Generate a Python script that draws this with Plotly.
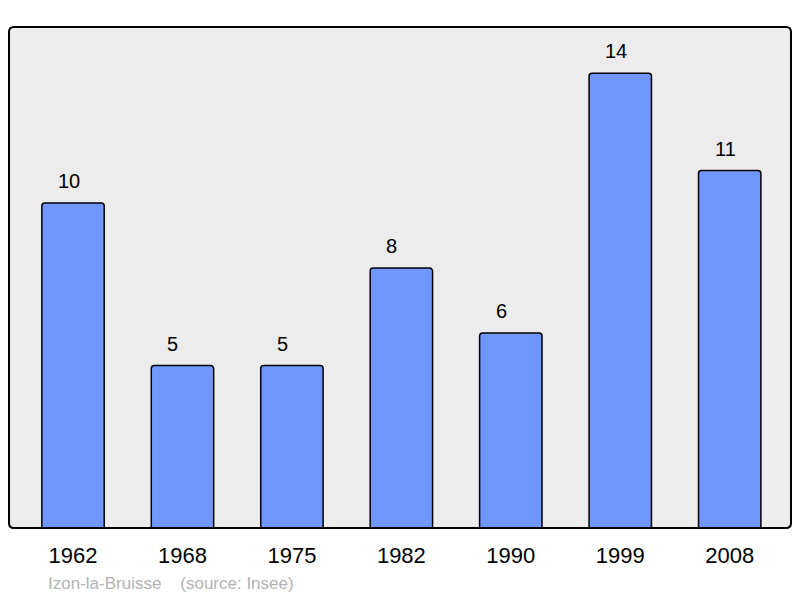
import plotly.graph_objects as go

years = ["1962", "1968", "1975", "1982", "1990", "1999", "2008"]
population = [10, 5, 5, 8, 6, 14, 11]
commune = "Izon-la-Bruisse"
source = "(source: Insee)"

idx = list(range(len(years)))

fig = go.Figure()
fig.add_trace(go.Bar(
    x=idx, y=population, width=0.57,
    marker=dict(color="#7097ff", line=dict(color="#000000", width=1.5), cornerradius=3),
    hoverinfo="skip",
))

for i, v in zip(idx, population):
    fig.add_annotation(x=i, y=v, text=str(v), showarrow=False,
                       xanchor="left", xshift=-17, yshift=22, yanchor="middle",
                       font=dict(family="Liberation Sans, Arial", size=20, color="#000"))

fig.add_annotation(xref="paper", yref="paper", x=37/782, y=-(583-528)/501,
                   xanchor="left", yanchor="middle", showarrow=False,
                   text=commune + "\u00a0\u00a0\u00a0\u00a0" + source,
                   font=dict(family="Liberation Sans, Arial", size=17, color="#b3b3b3"))

# rounded plot border
rx, ry = 5/782, 5/501
path = (f"M {rx},0 L {1-rx},0 Q 1,0 1,{ry} L 1,{1-ry} Q 1,1 {1-rx},1 "
        f"L {rx},1 Q 0,1 0,{1-ry} L 0,{ry} Q 0,0 {rx},0 Z")
fig.add_shape(type="path", xref="paper", yref="paper", path=path,
              line=dict(color="#000", width=2), layer="above")

fig.update_layout(
    width=800, height=598,
    margin=dict(l=9, r=9, t=27, b=70, autoexpand=False),
    paper_bgcolor="#ffffff", plot_bgcolor="#ececec",
    showlegend=False,
    xaxis=dict(range=[-0.585, 6.56], tickvals=idx, ticktext=years,
               showgrid=False, zeroline=False, showline=False,
               ticks="outside", ticklen=8, tickcolor="rgba(0,0,0,0)",
               tickfont=dict(family="Liberation Sans, Arial", size=22, color="#000")),
    yaxis=dict(range=[0, 15.42], showgrid=False, zeroline=False,
               showticklabels=False, showline=False),
)

fig.write_html("out.html", config={"displayModeBar": False},
               post_script="document.body.style.margin='0';document.body.style.overflow='hidden';")
